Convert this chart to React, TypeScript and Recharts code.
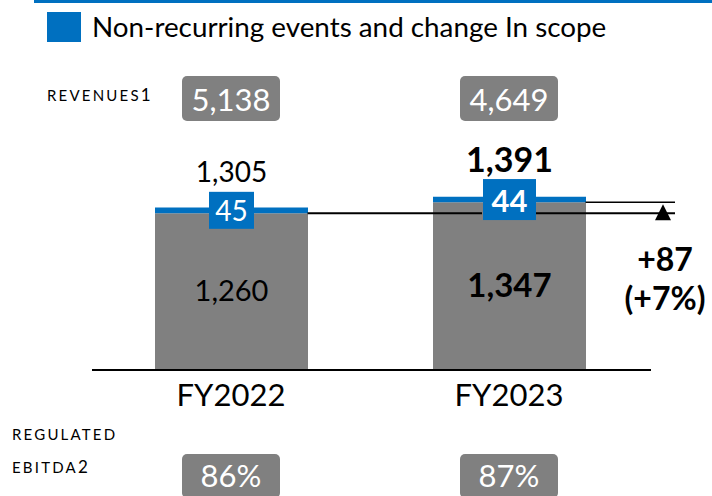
import React from 'react';
import { BarChart, Bar, XAxis, YAxis, LabelList, ReferenceLine } from 'recharts';

const categories = ['FY2022', 'FY2023'];
const recurringValues = [1260, 1347];
const nonRecurringValues = [45, 44];
const revenues = [5138, 4649];
const regulatedEbitda = [86, 87];

const BLUE = '#0070C0';
const GREY = '#808080';
const FONT = 'Lato, "Noto Sans", sans-serif';
const BAR_SIZE = 153;
const PAD_RIGHT = 3;

const fmt = (v: number) => v.toLocaleString('en-US');

const data = categories.map((name, i) => ({
  name,
  recurring: recurringValues[i],
  nonRecurring: nonRecurringValues[i],
  total: recurringValues[i] + nonRecurringValues[i],
}));

const delta = recurringValues[1] - recurringValues[0];
const deltaPct = Math.round((delta / recurringValues[0]) * 100);

// bar geometry helpers from the reference line's x range
const barEdges = (x1: number, x2: number, i: number) => {
  const band = (x2 - PAD_RIGHT - x1) / categories.length;
  const cx = x1 + band * (i + 0.5);
  return { cx, left: cx - BAR_SIZE / 2, right: cx + BAR_SIZE / 2 };
};

const AxisTick = (props: any) => {
  const { x, y, payload } = props;
  const i = payload.index;
  return (
    <g fontFamily={FONT}>
      <rect x={x - 49} y={76} width={98} height={45} rx={5} fill={GREY} />
      <text x={x} y={99} textAnchor="middle" dominantBaseline="central" fill="#fff" fontSize={31}>
        {fmt(revenues[i])}
      </text>
      <text x={x} y={y + 16} textAnchor="middle" dominantBaseline="central" fill="#000" fontSize={31}>
        {payload.value}
      </text>
      <rect x={x - 49} y={454} width={98} height={44} rx={5} fill={GREY} />
      <text x={x} y={475} textAnchor="middle" dominantBaseline="central" fill="#fff" fontSize={31}>
        {regulatedEbitda[i] + '%'}
      </text>
    </g>
  );
};

const RecurringLabel = (props: any) => {
  const { x, y, width, height, value, index } = props;
  return (
    <text x={x + width / 2} y={y + height / 2 - 2} textAnchor="middle" dominantBaseline="central"
      fontFamily={FONT} fontSize={index === 1 ? 33 : 29} fontWeight={index === 1 ? 700 : 400} fill="#000">
      {fmt(value)}
    </text>
  );
};

const NonRecurringLabel = (props: any) => {
  const { x, y, width, height, value, index } = props;
  const bold = index === 1;
  const bw = bold ? 53 : 45;
  const bh = bold ? 41 : 37;
  const cx = x + width / 2;
  const cy = y + height / 2;
  return (
    <g fontFamily={FONT}>
      <rect x={cx - bw / 2} y={cy - bh / 2} width={bw} height={bh} fill={BLUE} />
      <text x={cx} y={cy} textAnchor="middle" dominantBaseline="central" fill="#fff"
        fontSize={bold ? 31 : 28} fontWeight={bold ? 700 : 400}>
        {value}
      </text>
      <text x={cx} y={cy - bh / 2 - 21} textAnchor="middle" dominantBaseline="central" fill="#000"
        fontSize={bold ? 34 : 28} fontWeight={bold ? 700 : 400}>
        {fmt(data[index].total)}
      </text>
    </g>
  );
};

const LowerLine = (props: any) => {
  const { x1, x2, y1 } = props;
  const b1 = barEdges(x1, x2, 0);
  const b2 = barEdges(x1, x2, 1);
  const end = x2 + 24;
  const tx = x2 + 12;
  return (
    <g>
      <line x1={b1.right} x2={b2.cx - 27} y1={y1} y2={y1} stroke="#000" strokeWidth={2} />
      <line x1={b2.cx + 27} x2={end} y1={y1} y2={y1} stroke="#000" strokeWidth={2} />
      <path d={`M${tx},${y1 - 9} L${tx + 8},${y1 + 7} L${tx - 8},${y1 + 7} Z`} fill="#000" />
      <text x={tx + 2} y={y1 + 45} textAnchor="middle" dominantBaseline="central" fontFamily={FONT}
        fontSize={32} fontWeight={700} fill="#000">{'+' + delta}</text>
      <text x={tx + 2} y={y1 + 84} textAnchor="middle" dominantBaseline="central" fontFamily={FONT}
        fontSize={32} fontWeight={700} fill="#000">{'(+' + deltaPct + '%)'}</text>
    </g>
  );
};

const UpperLine = (props: any) => {
  const { x1, x2, y1 } = props;
  const b2 = barEdges(x1, x2, 1);
  return <line x1={b2.right} x2={x2 + 24} y1={y1} y2={y1} stroke="#000" strokeWidth={1.5} />;
};

const sideLabel: React.CSSProperties = {
  position: 'absolute', fontFamily: FONT, fontSize: 15, letterSpacing: 2.2, color: '#000', lineHeight: 1,
};

export default function App() {
  return (
    <div style={{ position: 'absolute', left: 0, top: 0, width: 712, height: 496, background: '#fff', overflow: 'hidden' }}>
      <div style={{ position: 'absolute', left: 34, top: 0, width: 678, height: 3, background: BLUE }} />
      <div style={{ position: 'absolute', left: 47, top: 12, display: 'flex', alignItems: 'center', fontFamily: FONT, fontSize: 27.8, color: '#000', lineHeight: 1 }}>
        <div style={{ width: 34, height: 30, background: BLUE, marginRight: 11 }} />
        <span>Non-recurring events and change In scope</span>
      </div>
      <div style={{ ...sideLabel, left: 47, top: 86 }}>REVENUES<span style={{ fontSize: 17 }}>1</span></div>
      <div style={{ ...sideLabel, left: 12, top: 427 }}>REGULATED</div>
      <div style={{ ...sideLabel, left: 12, top: 458 }}>EBITDA<span style={{ fontSize: 17 }}>2</span></div>
      <div style={{ position: 'absolute', left: 0, top: 0 }}>
        <BarChart width={712} height={496} data={data} margin={{ top: 121, right: 61, bottom: 96, left: 92 }}>
          <YAxis hide domain={[0, 2000]} />
          <XAxis dataKey="name" height={30} axisLine={{ stroke: '#000', strokeWidth: 2 }} tickLine={false}
            padding={{ left: 0, right: PAD_RIGHT }} tick={<AxisTick />} interval={0} />
          <Bar dataKey="recurring" stackId="a" fill={GREY} barSize={BAR_SIZE} isAnimationActive={false}>
            <LabelList dataKey="recurring" content={<RecurringLabel />} />
          </Bar>
          <Bar dataKey="nonRecurring" stackId="a" fill={BLUE} barSize={BAR_SIZE} isAnimationActive={false}>
            <LabelList dataKey="nonRecurring" content={<NonRecurringLabel />} />
          </Bar>
          <ReferenceLine y={recurringValues[0]} shape={<LowerLine />} />
          <ReferenceLine y={recurringValues[1]} shape={<UpperLine />} />
        </BarChart>
      </div>
    </div>
  );
}
